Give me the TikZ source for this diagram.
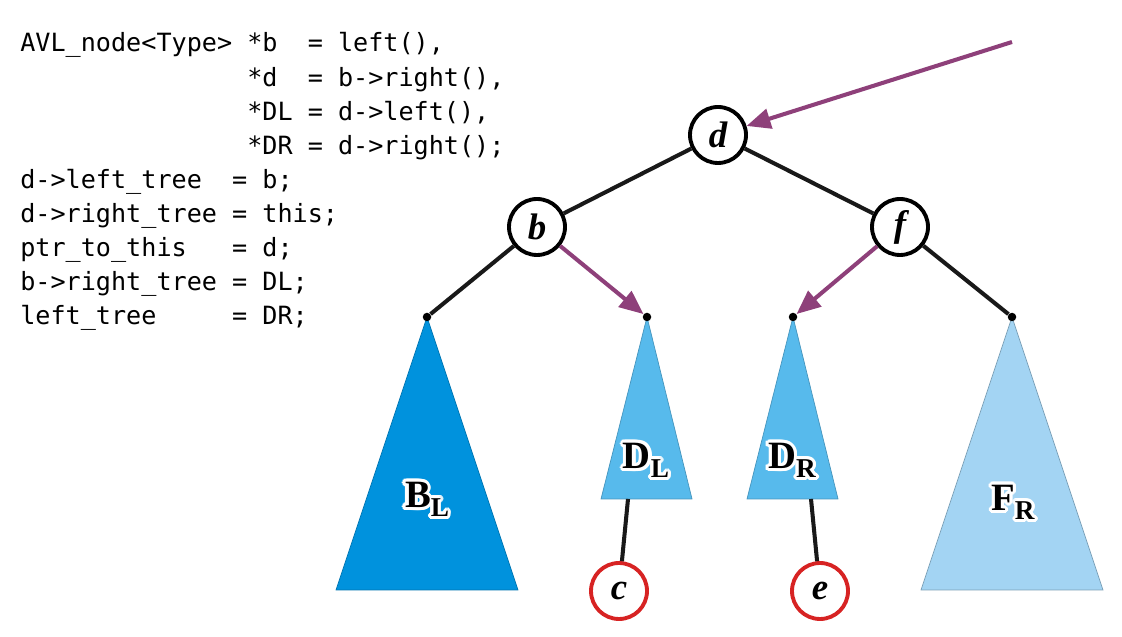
\documentclass[tikz,border=0pt]{standalone}
\usepackage{fontspec}
\setmainfont{Liberation Serif}
\setmonofont{DejaVu Sans Mono}
\usepackage{contour}
\contourlength{1.8pt}
\contournumber{16}
\usetikzlibrary{arrows.meta}
\definecolor{avlDeep}{RGB}{0,146,221}
\definecolor{avlMid}{RGB}{87,186,236}
\definecolor{avlPale}{RGB}{163,212,243}
\definecolor{avlPurple}{RGB}{142,64,122}
\definecolor{avlRed}{RGB}{215,35,35}
\newcommand{\trLabel}[2]{\contour{white}{#1\raisebox{-0.24em}{\fontsize{15.5}{16}\selectfont #2}}}
\begin{document}
\begin{tikzpicture}[
    avlKey/.style={draw,circle,line width=2.2pt,minimum size=1.12cm,inner sep=0pt,fill=white,
      font=\fontsize{21}{22}\selectfont\bfseries\itshape},
    avlLeaf/.style={avlKey,draw=avlRed},
    avlEdge/.style={line width=2.3pt,black!90},
    avlPtr/.style={-{Triangle[length=0.48cm,width=0.4cm]},line width=2.3pt,avlPurple},
    avlDot/.style={fill=black,circle,inner sep=0pt,minimum size=0.17cm},
    avlCode/.style={anchor=base west,inner sep=0pt,font=\fontsize{14.3}{17}\selectfont\ttfamily},
    avlLab/.style={font=\fontsize{22}{22}\selectfont\bfseries},
]
\useasboundingbox (0,0) rectangle (22.44,12.74);
% Code
\node[avlCode] (ln1) at (0.40,11.700) {AVL\_node<Type> *b\ \ = left(),};
\node[avlCode] (ln2) at (0.40,11.018) {\hphantom{AVL\_node<Type>\ }*d\ \ = b->right(),};
\node[avlCode] (ln3) at (0.40,10.336) {\hphantom{AVL\_node<Type>\ }*DL = d->left(),};
\node[avlCode] (ln4) at (0.40,9.654) {\hphantom{AVL\_node<Type>\ }*DR = d->right();};
\node[avlCode] (ln5) at (0.40,8.972) {d->left\_tree\ \ = b;};
\node[avlCode] (ln6) at (0.40,8.290) {d->right\_tree = this;};
\node[avlCode] (ln7) at (0.40,7.608) {ptr\_to\_this\ \ \ = d;};
\node[avlCode] (ln8) at (0.40,6.926) {b->right\_tree = DL;};
\node[avlCode] (ln9) at (0.40,6.244) {left\_tree\ \ \ \ \ = DR;};
% Subtrees
\filldraw[fill=avlDeep,draw=avlDeep!80!black,thin] (8.54,6.40) -- (6.72,0.94) -- (10.36,0.94) -- cycle;
\filldraw[fill=avlMid,draw=avlMid!80!black,thin] (12.94,6.40) -- (12.02,2.76) -- (13.84,2.76) -- cycle;
\filldraw[fill=avlMid,draw=avlMid!80!black,thin] (15.86,6.40) -- (14.94,2.76) -- (16.76,2.76) -- cycle;
\filldraw[fill=avlPale,draw=avlPale!75!black,thin] (20.24,6.40) -- (18.42,0.94) -- (22.06,0.94) -- cycle;
\node[avlLab] (blLab) at (8.54,2.72) {\trLabel{B}{L}};
\node[avlLab] (dlLab) at (12.92,3.50) {\trLabel{D}{L}};
\node[avlLab] (drLab) at (15.84,3.50) {\trLabel{D}{R}};
\node[avlLab] (frLab) at (20.26,2.66) {\trLabel{F}{R}};
% Nodes
\node[avlKey] (d) at (14.36,10.04) {d};
\node[avlKey] (b) at (10.74,8.20) {b};
\node[avlKey] (f) at (18.00,8.20) {f};
\node[avlLeaf] (c) at (12.38,0.92) {c};
\node[avlLeaf] (e) at (16.40,0.92) {e};
\node[avlDot] (bl) at (8.54,6.40) {};
\node[avlDot] (dl) at (12.94,6.40) {};
\node[avlDot] (dr) at (15.86,6.40) {};
\node[avlDot] (fr) at (20.24,6.40) {};
\coordinate (dlFoot) at (12.56,2.76);
\coordinate (drFoot) at (16.22,2.76);
\coordinate (ptr) at (20.24,11.90);
% Edges
\draw[avlEdge] (d) -- (b);
\draw[avlEdge] (d) -- (f);
\draw[avlEdge] (b) -- (bl);
\draw[avlEdge] (f) -- (fr);
\draw[avlEdge] (dlFoot) -- (c);
\draw[avlEdge] (drFoot) -- (e);
% Pointer changes
\draw[avlPtr] (ptr) -- (d);
\draw[avlPtr] (b) -- (dl);
\draw[avlPtr] (f) -- (dr);
\end{tikzpicture}
\end{document}
